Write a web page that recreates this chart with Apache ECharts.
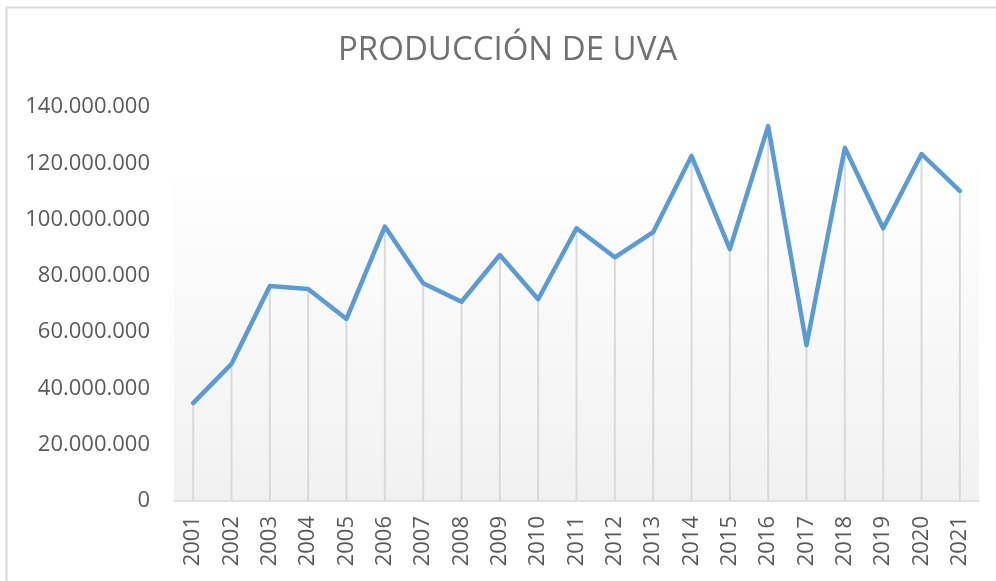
<!DOCTYPE html>
<html>
<head>
<meta charset="utf-8">
<script src="https://cdn.jsdelivr.net/npm/echarts@6/dist/echarts.min.js"></script>
<style>
html,body{margin:0;padding:0;background:#fff;}
#chart{width:996px;height:581px;}
</style>
</head>
<body>
<div id="chart"></div>
<script>
const titleText = "PRODUCCIÓN DE UVA";
const years = ["2001","2002","2003","2004","2005","2006","2007","2008","2009","2010","2011","2012","2013","2014","2015","2016","2017","2018","2019","2020","2021"];
const production = [34800000, 48700000, 76400000, 75300000, 64700000, 97500000, 77400000, 70800000, 87400000, 71700000, 96900000, 86600000, 95500000, 122600000, 89500000, 133200000, 55400000, 125500000, 96900000, 123300000, 110200000];
const yMin = 0, yMax = 140000000, yStep = 20000000;

function fmt(v){
  return String(Math.round(v)).replace(/\B(?=(\d{3})+(?!\d))/g, ".");
}

const chart = echarts.init(document.getElementById('chart'), null, {renderer:'canvas'});
chart.setOption({
  animation:false,
  backgroundColor:'#ffffff',
  title:{
    text:titleText,
    left:333,
    top:29,
    textStyle:{fontFamily:'Open Sans', fontWeight:'normal', fontSize:33, color:'#707070'}
  },
  graphic:[{
    type:'rect',
    shape:{x:6.5, y:7.5, width:1200, height:800},
    style:{fill:'none', stroke:'#d9d9d9', lineWidth:2},
    silent:true
  }],
  grid:{
    left:174, right:17, top:107, bottom:80,
    show:true,
    borderWidth:0,
    backgroundColor:new echarts.graphic.LinearGradient(0,0,0,1,[
      {offset:0,color:'#ffffff'},
      {offset:0.12,color:'#ffffff'},
      {offset:1,color:'#f1f1f1'}
    ])
  },
  xAxis:{
    type:'category',
    data:years,
    boundaryGap:true,
    axisLine:{show:true, lineStyle:{color:'#d9d9d9', width:1.5}},
    axisTick:{show:false},
    axisLabel:{rotate:90, fontFamily:'Open Sans', fontSize:22, color:'#595959', margin:15}
  },
  yAxis:{
    type:'value',
    min:yMin, max:yMax, interval:yStep,
    axisLine:{show:false},
    axisTick:{show:false},
    splitLine:{show:false},
    axisLabel:{fontFamily:'Open Sans', fontSize:22, color:'#595959', margin:24, formatter:fmt}
  },
  series:[
    {
      type:'bar',
      data:production,
      barWidth:2,
      itemStyle:{color:'#d9d9d9'},
      silent:true,
      z:1
    },
    {
      type:'line',
      data:production,
      showSymbol:false,
      symbol:'none',
      lineStyle:{color:'#5b9bd5', width:4.5, join:'round', cap:'round'},
      z:3
    }
  ]
});
</script>
</body>
</html>
